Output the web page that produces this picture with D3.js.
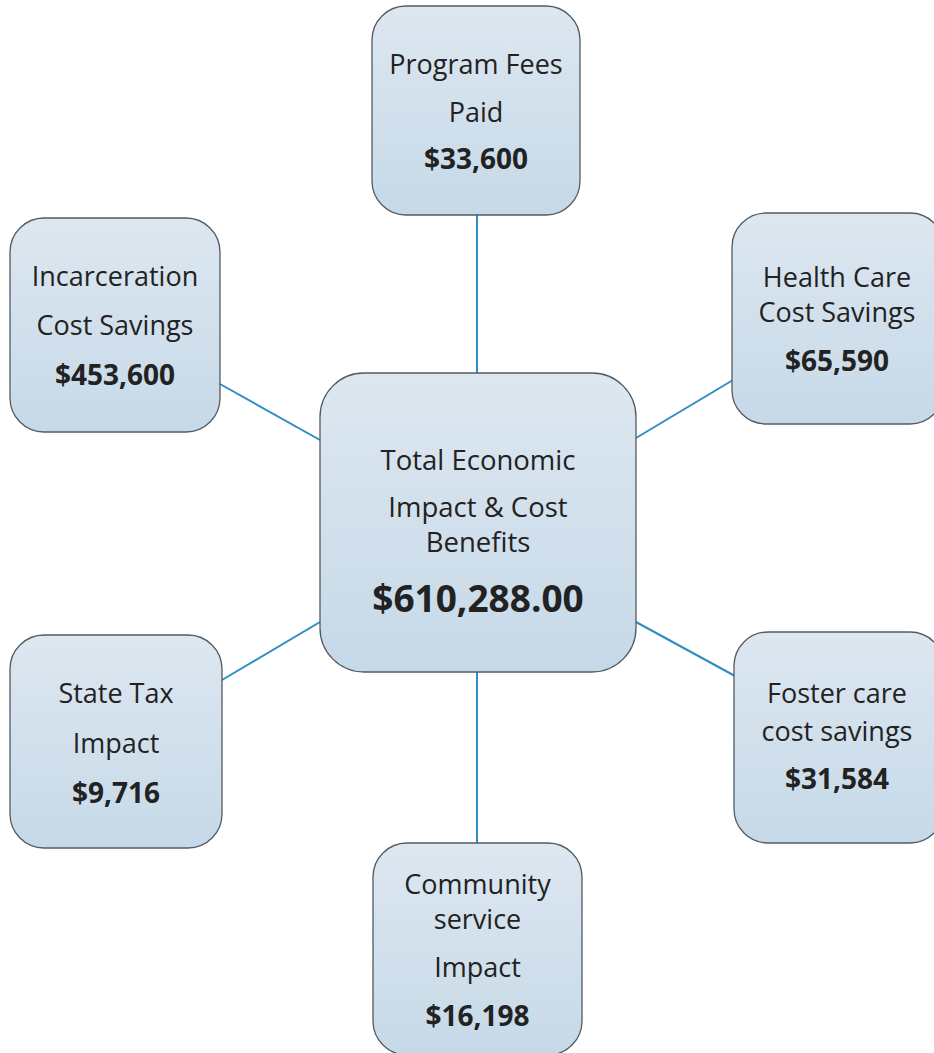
<!DOCTYPE html>
<html>
<head>
<meta charset="utf-8">
<script src="https://cdn.jsdelivr.net/npm/d3@7"></script>
<style>
  html, body { margin: 0; padding: 0; background: #fff; }
  svg { display: block; }
</style>
</head>
<body>
<div id="chart"></div>
<script>
// ---- data ----
const centerLabel = ['Total Economic', 'Impact & Cost', 'Benefits'];
const centerValue = 610288.00;

const itemLabels = [
  ['Program Fees', 'Paid'],
  ['Incarceration', 'Cost Savings'],
  ['Health Care', 'Cost Savings'],
  ['State Tax', 'Impact'],
  ['Foster care', 'cost savings'],
  ['Community', 'service', 'Impact']
];
const itemValues = [33600, 453600, 65590, 9716, 31584, 16198];

// ---- layout (box rect + text line centres, page px) ----
const width = 934, height = 1053;
const boxLayout = [
  {x: 372, y: 6,   w: 208, h: 209, lines: [63, 111, 158]},
  {x: 10,  y: 218, w: 210, h: 214, lines: [275, 324, 374]},
  {x: 732, y: 213, w: 212, h: 211, lines: [276, 311, 360]},
  {x: 10,  y: 635, w: 212, h: 213, lines: [692, 742, 792]},
  {x: 734, y: 632, w: 210, h: 211, lines: [692, 730, 778]},
  {x: 373, y: 843, w: 209, h: 212, lines: [883, 918, 966, 1015]}
];
const centerLayout = {x: 320, y: 373, w: 316, h: 299, lines: [459, 506, 541, 597]};
// connector end points
const links = [
  [[477, 215], [477, 373]],
  [[220, 384], [320, 440]],
  [[733, 380], [636, 438]],
  [[222, 680], [320, 622]],
  [[735, 676], [636, 622]],
  [[477, 843], [477, 672]]
];

const svg = d3.select('#chart').append('svg')
  .attr('width', width)
  .attr('height', height);

const defs = svg.append('defs');
const grad = defs.append('linearGradient')
  .attr('id', 'boxFill')
  .attr('x1', 0).attr('y1', 0).attr('x2', 0).attr('y2', 1);
grad.append('stop').attr('offset', '0%').attr('stop-color', '#dde7f0');
grad.append('stop').attr('offset', '100%').attr('stop-color', '#c6d9e8');

//------ connectors ------
svg.append('g')
  .selectAll('line')
  .data(links)
  .enter()
  .append('line')
    .attr('x1', d => d[0][0]).attr('y1', d => d[0][1])
    .attr('x2', d => d[1][0]).attr('y2', d => d[1][1])
    .attr('stroke', '#2e8dc4')
    .attr('stroke-width', 2);

const fmt = d3.format('$,');
const fmtCenter = d3.format('$,.2f');
const fontFamily = '"Open Sans", Lato, sans-serif';

function drawBox(g, lay, radius){
  g.append('rect')
    .attr('x', lay.x).attr('y', lay.y)
    .attr('width', lay.w).attr('height', lay.h)
    .attr('rx', radius).attr('ry', radius)
    .attr('fill', 'url(#boxFill)')
    .attr('stroke', '#535b63')
    .attr('stroke-width', 1.3);
}

//------ satellite boxes ------
const nodes = itemLabels.map((lbl, i) => ({labels: lbl, value: itemValues[i], lay: boxLayout[i]}));

const nodeG = svg.append('g')
  .selectAll('g')
  .data(nodes)
  .enter()
  .append('g');

nodeG.each(function(d){
  const g = d3.select(this);
  drawBox(g, d.lay, 34);
  const texts = d.labels.concat([fmt(d.value)]);
  texts.forEach((t, j) => {
    const last = j === texts.length - 1;
    g.append('text')
      .attr('x', d.lay.x > 700 ? 837 : d.lay.x + d.lay.w / 2)
      .attr('y', d.lay.lines[j])
      .attr('text-anchor', 'middle')
      .attr('dominant-baseline', 'central')
      .style('font-family', fontFamily)
      .style('font-size', last ? '28px' : '27px')
      .style('font-weight', last ? 700 : 400)
      .style('fill', '#222')
      .text(t);
  });
});

//------ centre box ------
const centerG = svg.append('g');
drawBox(centerG, centerLayout, 44);
centerLabel.concat([fmtCenter(centerValue)]).forEach((t, j, arr) => {
  const last = j === arr.length - 1;
  centerG.append('text')
    .attr('x', centerLayout.x + centerLayout.w / 2)
    .attr('y', centerLayout.lines[j])
    .attr('text-anchor', 'middle')
    .attr('dominant-baseline', 'central')
    .style('font-family', fontFamily)
    .style('font-size', last ? '37px' : '27.5px')
    .style('font-weight', last ? 700 : 400)
    .style('fill', '#222')
    .text(t);
});
</script>
</body>
</html>
